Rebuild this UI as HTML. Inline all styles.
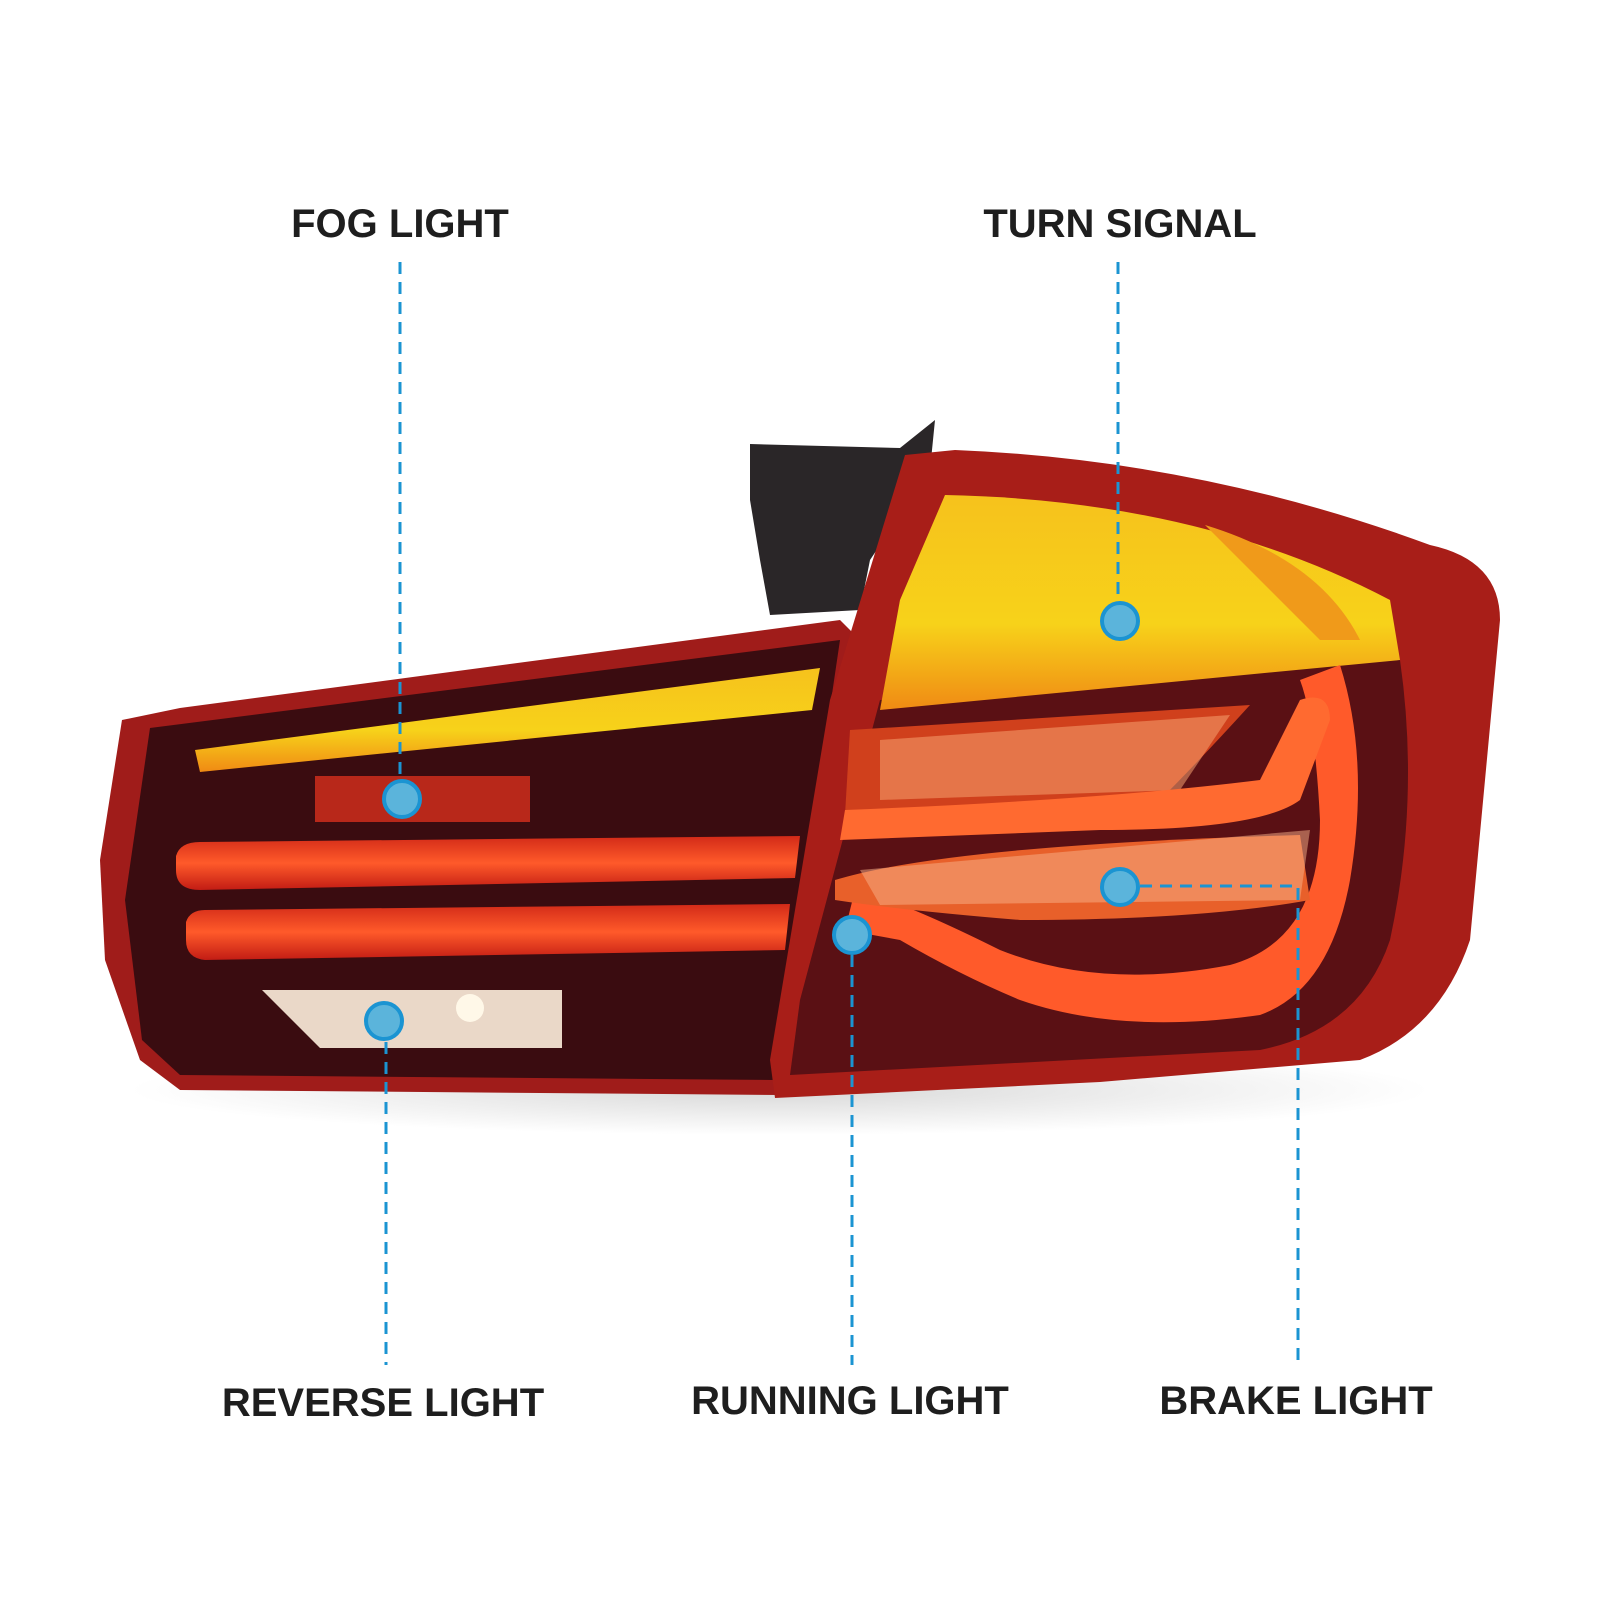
<!DOCTYPE html>
<html><head><meta charset="utf-8"><style>
html,body{margin:0;padding:0;background:#fff;}
svg{display:block}
text{font-family:"Liberation Sans",sans-serif;font-weight:bold;font-size:40px;fill:#1e1e1e;text-anchor:middle}
</style></head><body>
<svg width="1600" height="1600" viewBox="0 0 1600 1600" xmlns="http://www.w3.org/2000/svg">
<defs>
<linearGradient id="yel" x1="0" y1="0" x2="0" y2="1"><stop offset="0" stop-color="#f6c21c"/><stop offset="0.6" stop-color="#f7d21a"/><stop offset="1" stop-color="#f08a14"/></linearGradient>
<linearGradient id="bar" x1="0" y1="0" x2="0" y2="1"><stop offset="0" stop-color="#d22a18"/><stop offset="0.5" stop-color="#ff5a2a"/><stop offset="1" stop-color="#c21c14"/></linearGradient>
<radialGradient id="shadow" cx="0.5" cy="0.5" r="0.5"><stop offset="0" stop-color="#d8d8d8"/><stop offset="1" stop-color="#fff"/></radialGradient>
</defs>
<ellipse cx="780" cy="1090" rx="650" ry="45" fill="url(#shadow)"/>
<path d="M750 444 L900 448 L935 420 L930 470 L870 560 L860 610 L770 615 L760 560 L750 500Z" fill="#2a2628"/>
<!-- left piece -->
<path d="M122 720 L180 708 L840 620 L860 640 L780 1095 L180 1090 L140 1060 L105 960 L100 860Z" fill="#a01c1a"/>
<path d="M150 728 L840 640 L775 1080 L180 1075 L142 1040 L125 900Z" fill="#3a0c10"/>
<path d="M195 750 L820 668 L812 710 L200 772Z" fill="url(#yel)"/>
<rect x="315" y="776" width="215" height="46" fill="#b8281a"/>
<path d="M176 856 Q180 842 200 842 L800 836 L795 878 L200 890 Q176 890 176 870Z" fill="url(#bar)"/>
<path d="M186 922 Q190 910 205 910 L790 904 L785 950 L205 960 Q186 958 186 940Z" fill="url(#bar)"/>
<path d="M262 990 L562 990 L562 1048 L320 1048Z" fill="#ead8c8"/>
<circle cx="470" cy="1008" r="14" fill="#fff8e8"/>
<!-- right piece -->
<path d="M905 455 L955 450 Q1200 460 1430 545 Q1500 560 1500 620 L1470 940 Q1440 1030 1360 1060 L1100 1082 L775 1098 L770 1060 L830 700Z" fill="#a81e18"/>
<path d="M880 700 L1400 660 Q1420 800 1390 940 Q1360 1030 1260 1050 L790 1075 L800 1000 Z" fill="#5a1014"/>
<path d="M945 495 Q1200 500 1390 600 L1400 660 L880 710 L900 600Z" fill="url(#yel)"/>
<path d="M1205 525 Q1320 560 1360 640 L1320 640 Z" fill="#f09a1a"/>
<path d="M850 730 L1250 705 Q1200 760 1160 800 L845 815Z" fill="#d0401c"/>
<path d="M880 740 L1230 715 L1180 790 L880 800Z" fill="#f5a070" opacity="0.55"/>
<path d="M1340 665 Q1370 760 1350 880 Q1330 990 1260 1015 Q1120 1035 1020 1000 Q960 975 900 940 L845 930 L855 890 Q900 900 1000 950 Q1100 990 1230 965 Q1320 940 1320 820 Q1315 720 1300 680Z" fill="#ff5a2a"/>
<path d="M835 880 Q950 845 1300 835 L1310 900 Q1200 920 1020 920 Q900 910 835 900Z" fill="#e8602a"/>
<path d="M860 870 L1310 830 L1300 900 L880 905Z" fill="#f7b28a" opacity="0.5"/>
<path d="M845 810 Q1100 800 1260 780 L1300 700 Q1330 690 1330 720 L1300 800 Q1260 830 1100 830 L840 840Z" fill="#ff6a30"/>
<g stroke="#1b94d2" stroke-width="3" stroke-dasharray="12,8" fill="none">
<line x1="400" y1="262" x2="400" y2="800"/>
<line x1="1118" y1="262" x2="1118" y2="622"/>
<line x1="386" y1="1022" x2="386" y2="1365"/>
<line x1="852" y1="935" x2="852" y2="1365"/>
<polyline points="1120,886 1298,886 1298,1365"/>
</g>
<g fill="#5bb4db" stroke="#1b94d2" stroke-width="4">
<circle cx="402" cy="799" r="18"/>
<circle cx="1120" cy="621" r="18"/>
<circle cx="384" cy="1021" r="18"/>
<circle cx="852" cy="935" r="18"/>
<circle cx="1120" cy="887" r="18"/>
</g>
<text x="400" y="237">FOG LIGHT</text>
<text x="1120" y="237">TURN SIGNAL</text>
<text x="383" y="1416">REVERSE LIGHT</text>
<text x="850" y="1414">RUNNING LIGHT</text>
<text x="1296" y="1414">BRAKE LIGHT</text>
</svg>
</body></html>
